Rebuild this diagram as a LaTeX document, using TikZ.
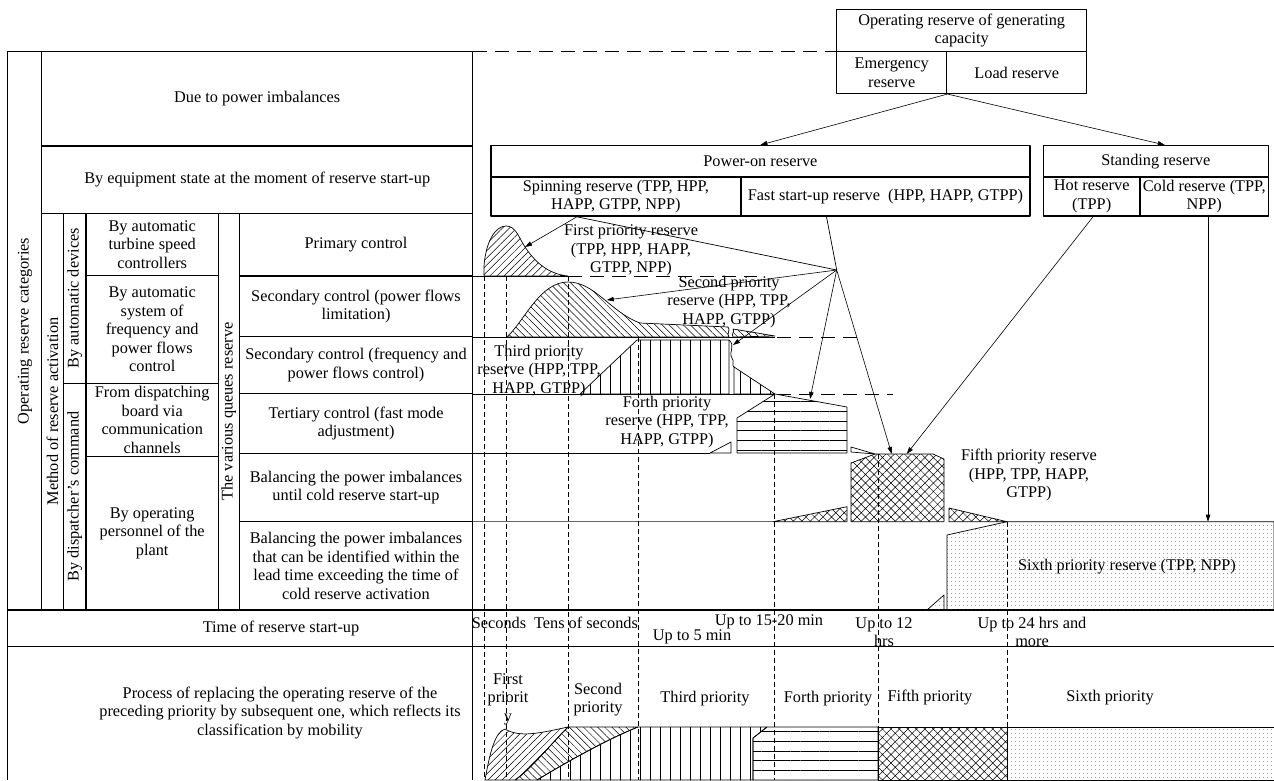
\documentclass[tikz,border=0pt]{standalone}
\usepackage{fontspec}
\setmainfont{Liberation Serif}
\usetikzlibrary{arrows.meta,patterns.meta,calc}

\begin{document}
\begin{tikzpicture}[x=1pt,y=-1pt,line join=round,>={Triangle[length=7pt,width=4.5pt]},
  font=\fontsize{16.3}{18.5}\selectfont,
  rule/.style={line width=1.5pt},
  edge/.style={line width=0.7pt},
  cell/.style={draw,line width=1.5pt,inner sep=0pt,align=center},
  txt/.style={inner sep=0pt,align=center},
  vtxt/.style={inner sep=0pt,rotate=90},
  hdash/.style={line width=0.8pt,dash pattern=on 14pt off 8pt},
  vdash/.style={line width=0.6pt,dash pattern=on 5pt off 3pt},
  pfirst/.style={edge,pattern={Lines[angle=45,distance=5pt,line width=0.5pt]}},
  psecond/.style={edge,pattern={Lines[angle=-45,distance=5pt,line width=0.5pt]}},
  pthird/.style={edge,pattern={Lines[angle=90,distance=10pt,line width=0.6pt]}},
  pforth/.style={edge,pattern={Lines[angle=0,distance=9.7pt,line width=0.6pt]}},
  pfifth/.style={edge,pattern={Hatch[angle=45,distance=6pt,line width=0.5pt]}},
  psixth/.style={edge,pattern={Dots[distance=4pt,radius=0.5pt]},pattern color=black!70},
  link/.style={line width=0.6pt,->}]
\useasboundingbox (0,0) rectangle (1274,780);

% left table
\draw[rule] (7.3,780) -- (7.3,51.7) -- (472.7,51.7) -- (472.7,780);
\draw[rule] (41.7,51.7) -- (41.7,610);
\draw[rule] (41.7,146) -- (472.7,146);
\draw[rule] (41.7,213.3) -- (472.7,213.3);
\foreach \cx in {63.3,86,218.3,239.3} \draw[rule] (\cx,213.3) -- (\cx,610);
\foreach \ry in {276,336.7,393.3,453.3,521.7} \draw[rule] (239.3,\ry) -- (472.7,\ry);
\draw[rule] (63.3,383.3) -- (218.3,383.3);
\draw[rule] (86,275.5) -- (218.3,275.5);
\draw[rule] (86,456.7) -- (218.3,456.7);
\draw[rule] (7.3,610) -- (1274,610);
\draw[rule] (7.3,646.7) -- (1274,646.7);
\draw[hdash] (472.7,51.7) -- (836.7,51.7);

\node[txt] (imb) at (257.2,98.9) {Due to power imbalances};
\node[txt] (eqs) at (257.2,179.7) {By equipment state at the moment of reserve start-up};
\node[vtxt] (orcat) at (25,331) {Operating reserve categories};
\node[vtxt] (meth) at (52.5,411.5) {Method of reserve activation};
\node[vtxt] (autod) at (74.7,298.3) {By automatic devices};
\node[vtxt] (dispc) at (74.7,496.6) {By dispatcher’s command};
\node[vtxt] (queue) at (228.8,411.5) {The various queues reserve};
\node[txt] (tsc) at (152.2,244.4) {By automatic\\turbine speed\\controllers};
\node[txt] (afc) at (152.2,329.4) {By automatic\\system of\\frequency and\\power flows\\control};
\node[txt] (dbc) at (152.2,420) {From dispatching\\board via\\communication\\channels};
\node[txt] (opp) at (152.2,533.3) {By operating\\personnel of the\\plant};
\node[txt] (prim) at (356,244.6) {Primary control};
\node[txt] (secl) at (356,306.3) {Secondary control (power flows\\limitation)};
\node[txt] (secf) at (356,365) {Secondary control (frequency and\\power flows control)};
\node[txt] (tert) at (356,423.3) {Tertiary control (fast mode\\adjustment)};
\node[txt] (balc) at (356,487.5) {Balancing the power imbalances\\until cold reserve start-up};
\node[txt] (ball) at (356,565.8) {Balancing the power imbalances\\that can be identified within the\\lead time exceeding the time of\\cold reserve activation};
\node[txt] (tstart) at (281,628) {Time of reserve start-up};
\node[txt] (repl) at (280,713) {Process of replacing the operating reserve of the\\preceding priority by subsequent one, which reflects its\\classification by mobility};

% reserve boxes
\node[cell,minimum width=250,minimum height=42.4] (orc) at (961.7,30.5) {Operating reserve of generating\\capacity};
\node[cell,minimum width=110,minimum height=41.6] (emr) at (891.7,72.5) {Emergency\\reserve};
\node[cell,minimum width=140,minimum height=41.6] (ldr) at (1016.7,72.5) {Load reserve};
\node[cell,minimum width=539.3,minimum height=31] (pon) at (760.4,161.2) {Power-on reserve};
\node[cell,minimum width=250.3,minimum height=39.3] (spin) at (615.9,196.4) {Spinning reserve (TPP, HPP,\\HAPP, GTPP, NPP)};
\node[cell,minimum width=289,minimum height=39.3] (fast) at (885.5,196.4) {Fast start-up reserve\ \ (HPP, HAPP, GTPP)};
\node[cell,minimum width=225,minimum height=31] (std) at (1155.8,161.2) {Standing reserve};
\node[cell,minimum width=96.7,minimum height=39.3] (hot) at (1091.7,196.4) {Hot reserve\\(TPP)};
\node[cell,minimum width=128.3,minimum height=39.3] (cold) at (1204.2,196.4) {Cold reserve (TPP,\\NPP)};

% level lines
\draw[edge] (472.7,276) -- (568,276);
\draw[hdash] (568,276) -- (757,276);
\draw[edge] (472.7,337) -- (775,337);
\draw[hdash] (777,337) -- (862,337);
\draw[edge] (472.7,394) -- (775,394);
\draw[hdash] (777,394) -- (893,394);
\draw[edge] (472.7,453) -- (710,453);
\draw[edge,black!60] (472.7,521.7) -- (773,521.7);

% priority shapes
\draw[pfirst] (484,276) -- (484,266) .. controls (486,240) and (496,226) .. (506,226)
  .. controls (516,226) and (519,238) .. (525,247) .. controls (535,262) and (548,274) .. (568,276) -- cycle;
\draw[psecond] (507,337) .. controls (525,320) and (540,282) .. (568,282)
  .. controls (595,282) and (610,312) .. (640,323) -- (728,327)
  .. controls (731,330) and (726,334) .. (729,337) -- cycle;
\draw[psecond] (733,329) -- (775,336) -- (733,337) .. controls (731,334) and (735,332) .. (733,329);
\draw[pthird] (580,394) -- (637,340) -- (729,340) -- (729,394) -- cycle;
\draw[edge] (729,340) .. controls (736,346) and (728,352) .. (732,358) .. controls (735,362) and (731,365) .. (734,367);
\draw[pthird] (734,367) -- (775,394) -- (734,394) -- cycle;
\draw[edge] (710,453) -- (731,442) -- (731,453) -- cycle;
\draw[pforth] (737,453) -- (737,418) -- (775,394) -- (847,407) -- (847,453) -- cycle;
\draw[edge] (851,447) -- (875,454) -- (851,452) -- cycle;
\draw[pfifth] (773,521.7) -- (847,506.7) -- (847,521.7) -- cycle;
\draw[pfifth] (851,521.7) -- (851,463) -- (875,454) -- (933,454) -- (944,459) -- (944,521.7) -- cycle;
\draw[pfifth] (949,508) -- (1007,521.7) -- (949,521.7) -- cycle;
\draw[psixth] (927,610) -- (944,595) -- (944,610) -- cycle;
\draw[psixth] (947,610) -- (947,535) -- (1007,521.7) -- (1274,521.7) -- (1274,610) -- cycle;

% replacement process
\draw[pfirst] (485,780) .. controls (490,752) and (495,732) .. (505,729)
  .. controls (520,738) and (540,733) .. (568,727) .. controls (550,745) and (530,770) .. (515,780) -- cycle;
\draw[psecond] (568,727) -- (638,727) .. controls (610,738) and (570,760) .. (537,780) -- (515,780)
  .. controls (530,770) and (550,745) .. (568,727) -- cycle;
\draw[pthird] (638,727) -- (767,727) -- (753,738) -- (753,780) -- (537,780)
  .. controls (570,760) and (610,738) .. (638,727) -- cycle;
\draw[pforth] (753,780) -- (753,738) -- (767,727) -- (878,727) -- (878,780) -- cycle;
\draw[pfifth] (878,727) rectangle (1007,780);
\draw[psixth] (1007,727) rectangle (1274,780);

% time marks
\foreach \vx/\vy in {484/276,506/276,568/276,638/337,774/394,878/454,1007/521.7}
  \draw[vdash] (\vx,\vy) -- (\vx,780);

\node[txt] (lab1) at (631,250.5) {First priority reserve\\(TPP, HPP, HAPP,\\GTPP, NPP)};
\node[txt] (lab2) at (729,302) {Second priority\\reserve (HPP, TPP,\\HAPP, GTPP)};
\node[txt] (lab3) at (539,371) {Third priority\\reserve (HPP, TPP,\\HAPP, GTPP)};
\node[txt] (lab4) at (667,422) {Forth priority\\reserve (HPP, TPP,\\HAPP, GTPP)};
\node[txt] (lab5) at (1029,475) {Fifth priority reserve\\(HPP, TPP, HAPP,\\GTPP)};
\node[txt] (lab6) at (1127,567) {Sixth priority reserve (TPP, NPP)};

\node[txt] (ts) at (499,623) {Seconds};
\node[txt] (tts) at (586,623) {Tens of seconds};
\node[txt] (t5) at (692,637) {Up to 5 min};
\node[txt] (t15) at (769,622) {Up to 15-20 min};
\node[txt] (t12) at (884,632) {Up to 12\\hrs};
\node[txt] (t24) at (1032,632) {Up to 24 hrs and\\more};

\node[txt] (q1) at (508,699) {First\\priorit\\y};
\node[txt] (q2) at (598,699.5) {Second\\priority};
\node[txt] (q3) at (705,699) {Third priority};
\node[txt] (q4) at (828,699) {Forth priority};
\node[txt] (q5) at (930,698) {Fifth priority};
\node[txt] (q6) at (1110,698) {Sixth priority};

% arrows
\coordinate (fan) at (836.7,270);
\coordinate (p1in) at (525,247);
\coordinate (p2in) at (606.7,300);
\coordinate (p3in) at (733,345);
\coordinate (p4in) at (810,399);
\coordinate (p5in) at (891.7,454);
\coordinate (p5hot) at (906.7,454);
\coordinate (p6in) at (1208,521.7);
\draw[link] (emr.south east) -- (pon.north);
\draw[link] (emr.south east) -- ([xshift=9]std.north);
\draw[link] ([xshift=-39]spin.south) -- (p1in);
\draw[edge] ([xshift=-39]spin.south) -- (fan);
\draw[edge] ([xshift=-59]fast.south) -- (fan);
\foreach \tg in {p2in,p3in,p4in,p5in} \draw[link] (fan) -- (\tg);
\draw[link] ([xshift=1.3]hot.south) -- (p5hot);
\draw[link] (cold.south -| p6in) -- (p6in);
\end{tikzpicture}
\end{document}
